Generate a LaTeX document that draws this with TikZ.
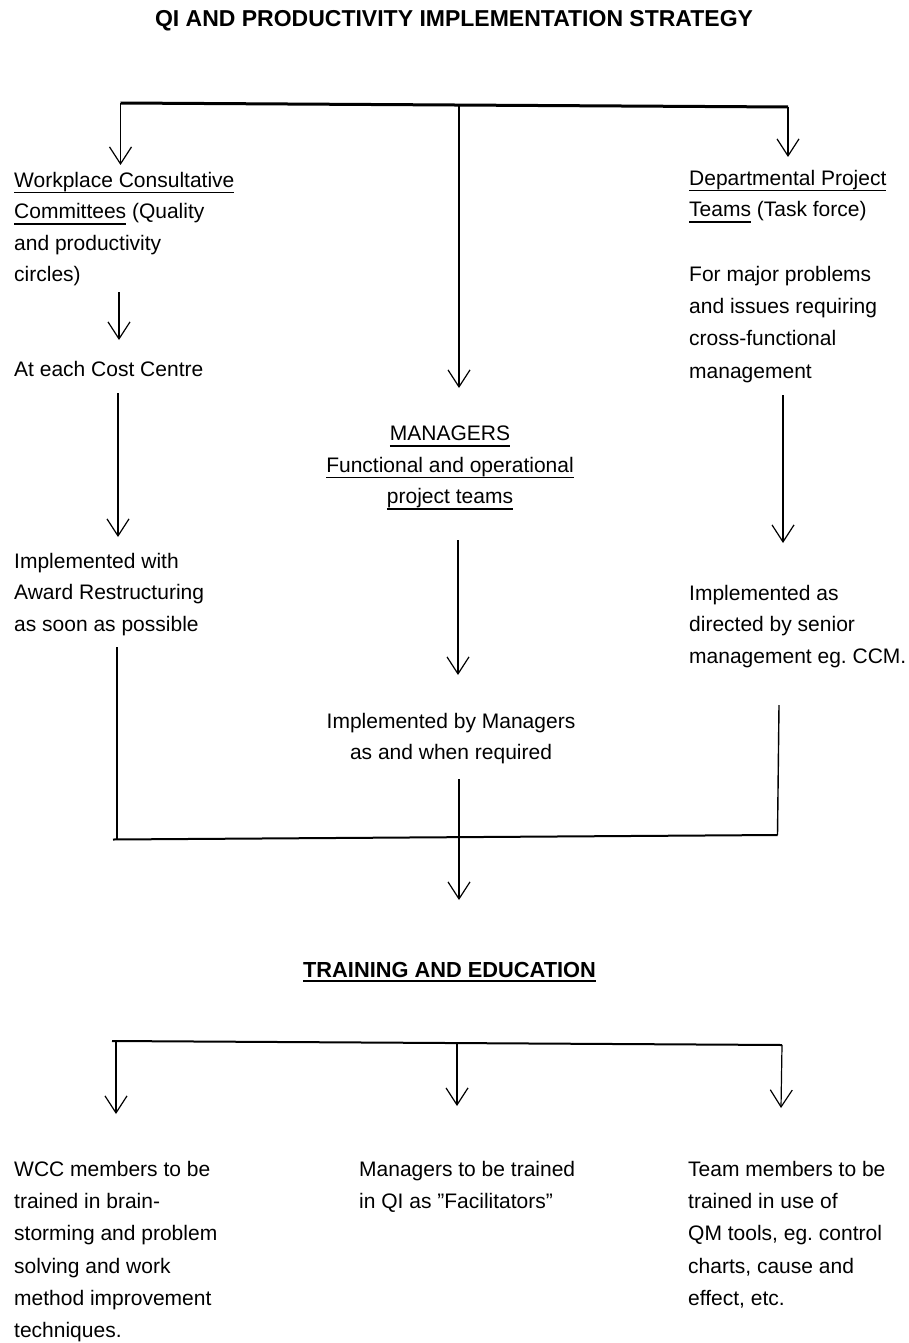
\documentclass[tikz,border=0pt]{standalone}
\usepackage{fontspec}
\setmainfont{Liberation Sans}
\usetikzlibrary{arrows.meta}
\frenchspacing
% underline drawn as a rule of fixed depth below the baseline
\newcommand\ulbar[1]{\leavevmode\setbox0\hbox{#1}\rlap{\rule[-5.8pt]{\wd0}{1.3pt}}\box0\relax}
\newcommand\ulbold[1]{\leavevmode\setbox0\hbox{#1}\rlap{\rule[-5pt]{\wd0}{2pt}}\box0\relax}
\newcommand\sq{\symbol{34}}
\begin{document}
\begin{tikzpicture}[x=1pt,y=-1pt,
  txt/.style={inner sep=0pt, font=\fontsize{21}{31.5}\selectfont},
  wide/.style={font=\fontsize{21}{32.2}\selectfont},
  blockl/.style={txt, align=left, anchor=north west},
  blockc/.style={txt, align=center, anchor=north},
  flow/.style={line width=1.2pt, -{Straight Barb[length=17pt,width=22pt]}},
  rail/.style={line width=1.4pt},
  bar/.style={line width=3pt},
  crossbar/.style={line width=2pt}]
\fill[white] (0,0) rectangle (909,1343);
\useasboundingbox (0,0) rectangle (909,1343);

% ---- headings ----
\node[txt, anchor=base, font=\fontsize{23}{27}\selectfont\bfseries] (title) at (454,27)
  {QI AND PRODUCTIVITY IMPLEMENTATION STRATEGY};

% ---- left column ----
\node[blockl] (wcc) at (14,172)
  {\ulbar{Workplace Consultative}\\ \ulbar{Committees} (Quality\\ and productivity\\ circles)};
\node[txt, anchor=base west] (cost) at (14,376) {At each Cost Centre};
\node[blockl] (award) at (14,553)
  {Implemented with\\ Award Restructuring\\ as soon as possible};

% ---- middle column ----
\node[blockc] (mgr) at (450,426)
  {\ulbar{MANAGERS}\\ \ulbar{Functional and operational}\\ \ulbar{project teams}};
\node[blockc, font=\fontsize{21}{31}\selectfont] (bymgr) at (451,713)
  {Implemented by Managers\\ as and when required};

% ---- right column ----
\node[blockl] (dpt) at (689,170)
  {\ulbar{Departmental Project}\\ \ulbar{Teams} (Task force)};
\node[blockl, wide] (major) at (689,266)
  {For major problems\\ and issues requiring\\ cross-functional\\ management};
\node[blockl] (senior) at (689,585)
  {Implemented as\\ directed by senior\\ management eg. CCM.};

% ---- training ----
\node[txt, anchor=base, font=\fontsize{21.8}{25}\selectfont\bfseries] (train) at (449.5,977)
  {\ulbold{TRAINING AND EDUCATION}};
\node[blockl, wide] (twcc) at (14,1161)
  {WCC members to be\\ trained in brain-\\ storming and problem\\ solving and work\\ method improvement\\ techniques.};
\node[blockl, wide] (tmgr) at (359,1161)
  {Managers to be trained\\ in QI as \sq Facilitators\sq};
\node[blockl, wide] (tteam) at (688,1161)
  {Team members to be\\ trained in use of\\ QM tools, eg. control\\ charts, cause and\\ effect, etc.};

% ---- connector points ----
\coordinate (barL) at (120.5,103);
\coordinate (barM) at (459,105);
\coordinate (barR) at (788,107);
\coordinate (toWcc) at (120.5,165);
\coordinate (toMgr) at (459,388);
\coordinate (toDpt) at (788,157);
\coordinate (wccOut) at (119,292);
\coordinate (toCost) at (119,340);
\coordinate (costOut) at (118,393);
\coordinate (toAward) at (118,537);
\coordinate (awardOut) at (117,647);
\coordinate (joinL) at (117,839.5);
\coordinate (mgrOut) at (458,540);
\coordinate (toBy) at (458,675);
\coordinate (byOut) at (459,779);
\coordinate (toTrain) at (459,900);
\coordinate (majorOut) at (783,395);
\coordinate (toSenior) at (783,543);
\coordinate (seniorOut) at (779,705);
\coordinate (joinR) at (777.5,835);
\coordinate (jbarL) at (113,839.5);
\coordinate (tbarL) at (112,1041);
\coordinate (tbarM) at (457,1043);
\coordinate (tbarR) at (782,1045);
\coordinate (tL) at (116,1041);
\coordinate (toTL) at (116,1114);
\coordinate (toTM) at (457,1106);
\coordinate (toTR) at (781,1108);

% ---- top distribution bar ----
\draw[bar] (barL) -- (barR);
\draw[flow] (barL) -- (toWcc);
\draw[flow] (barM) -- (toMgr);
\draw[flow] (barR) -- (toDpt);

% ---- column flows ----
\draw[flow] (wccOut) -- (toCost);
\draw[flow] (costOut) -- (toAward);
\draw[rail] (awardOut) -- (joinL);
\draw[flow] (mgrOut) -- (toBy);
\draw[flow] (majorOut) -- (toSenior);
\draw[rail] (seniorOut) -- (joinR);

% ---- merge into training ----
\draw[crossbar] (jbarL) -- (joinR);
\draw[flow] (byOut) -- (toTrain);

% ---- training distribution bar ----
\draw[crossbar] (tbarL) -- (tbarR);
\draw[flow] (tL) -- (toTL);
\draw[flow] (tbarM) -- (toTM);
\draw[flow] (tbarR) -- (toTR);
\end{tikzpicture}
\end{document}
